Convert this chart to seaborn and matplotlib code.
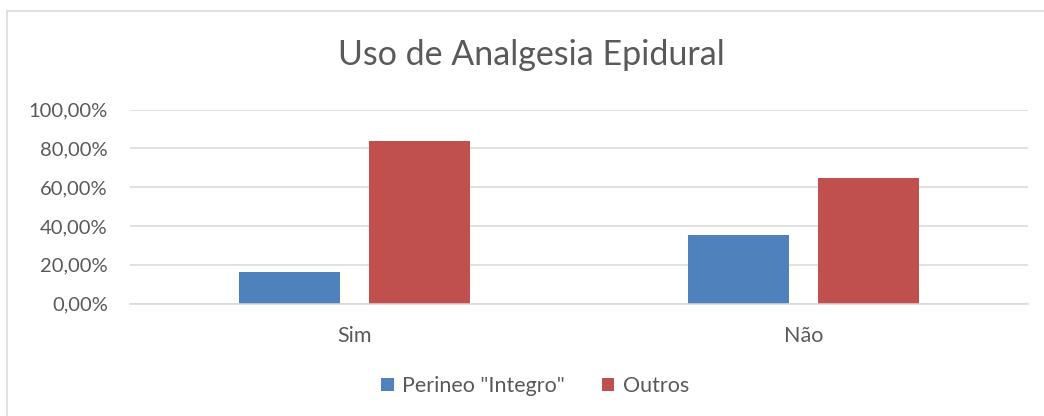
import matplotlib
matplotlib.use("Agg")
import matplotlib.pyplot as plt
from matplotlib.lines import Line2D
from matplotlib.ticker import FuncFormatter
import pandas as pd
import seaborn as sns

# Data
categories = ["Sim", "Não"]
series_names = ['Perineo "Integro"', "Outros"]
perineo_integro = [0.161, 0.353]
outros = [0.839, 0.647]
y_ticks = [0.0, 0.2, 0.4, 0.6, 0.8, 1.0]

df = pd.DataFrame({
    "categoria": categories * 2,
    "serie": [series_names[0]] * len(categories) + [series_names[1]] * len(categories),
    "valor": perineo_integro + outros,
})

sns.set_theme(style="white")
plt.rcParams["font.family"] = ["Lato", "DejaVu Sans"]

text_color = "#595959"
grid_color = "#d9d9d9"
palette = {series_names[0]: "#4f81bd", series_names[1]: "#c0504d"}

W, H = 1044, 416
fig = plt.figure(figsize=(W / 100, H / 100), dpi=100)
ax = fig.add_axes([130 / W, 1 - 303.7 / H, 898 / W, (303.7 - 109.5) / H])

sns.barplot(
    data=df, x="categoria", y="valor", hue="serie", order=categories,
    hue_order=series_names, palette=palette, width=0.575, gap=0.217,
    saturation=1, ax=ax, legend=True, edgecolor="none",
)

ax.set_xlim(-0.5, 1.5)
ax.set_ylim(0, 1.0)
ax.set_yticks(y_ticks)
ax.yaxis.set_major_formatter(FuncFormatter(lambda v, _: f"{v * 100:.2f}%".replace(".", ",")))
ax.yaxis.grid(True, color=grid_color, linewidth=1.1)
ax.set_axisbelow(True)
for side in ("left", "right", "top"):
    ax.spines[side].set_visible(False)
ax.spines["bottom"].set_color(grid_color)
ax.spines["bottom"].set_linewidth(1.1)
ax.tick_params(axis="both", length=0, labelcolor=text_color)
ax.tick_params(axis="y", pad=16, labelsize=14.5)
ax.tick_params(axis="x", pad=16, labelsize=15.5)
ax.set_xlabel("")
ax.set_ylabel("")

fig.text(531 / W, 1 - 55 / H, "Uso de Analgesia Epidural", fontsize=24.5,
         color=text_color, ha="center", va="center")

handles, labels = ax.get_legend_handles_labels()
ax.legend(
    handles, labels, loc="center", bbox_to_anchor=(535 / W, 1 - 386 / H),
    bbox_transform=fig.transFigure, ncol=2, frameon=False, fontsize=15.5,
    labelcolor=text_color, handlelength=0.6, handleheight=0.6, handletextpad=0.4,
    columnspacing=1.7,
)

# Chart-area frame
fig.add_artist(Line2D([6.5 / W, 1.0], [1 - 10.5 / H] * 2, transform=fig.transFigure,
                      color=grid_color, linewidth=1.1))
fig.add_artist(Line2D([6.5 / W] * 2, [0.0, 1 - 10.5 / H], transform=fig.transFigure,
                      color=grid_color, linewidth=1.1))

fig.savefig("out.png", dpi=100, facecolor="white")
